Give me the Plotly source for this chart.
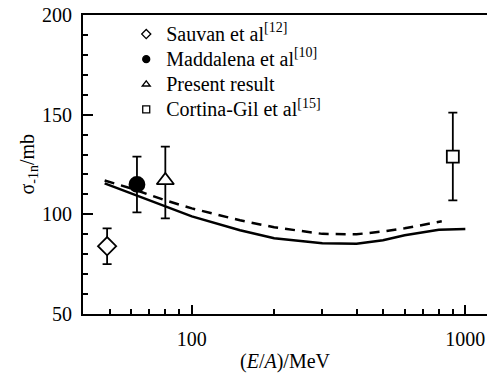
import plotly.graph_objects as go
import math

# Experimental data
exp_names = ["Sauvan et al<sup>[12]</sup>", "Maddalena et al<sup>[10]</sup>",
             "Present result", "Cortina-Gil et al<sup>[15]</sup>"]
exp_energy = [49, 63, 80, 900]
exp_sigma = [84, 115, 117, 129]
exp_err_plus = [9, 14, 17, 22]
exp_err_minus = [9, 14, 19, 22]
exp_symbols = ["diamond", "circle", "triangle-up", "square"]
exp_fill = ["white", "black", "white", "white"]
exp_sizes = [14, 15, 15, 12]

# Calculations
solid_energy = [48, 60, 70, 80, 100, 150, 200, 300, 400, 500, 600, 800, 1000]
solid_sigma = [115.5, 110.5, 107, 104, 99, 92, 88, 85.5, 85.3, 87, 89.5, 92.3, 92.6]
dash_energy = [48, 60, 80, 100, 150, 200, 300, 400, 500, 600, 820]
dash_sigma = [117, 113, 107, 103, 97, 93.5, 90.2, 90, 91.4, 93, 96.5]

x_tickvals = [100, 1000]
x_minor = [50, 60, 70, 80, 90, 200, 300, 400, 500, 600, 700, 800, 900]
y_tickvals = [50, 100, 150, 200]
x_title = "(<i>E</i>/<i>A</i>)/MeV"
y_title = "σ<sub>-1n</sub>/mb"

FONT = "'Liberation Serif', 'Times New Roman', Times, serif"
FS = 20
fig = go.Figure()

fig.add_trace(go.Scatter(x=solid_energy, y=solid_sigma, mode="lines",
                         line=dict(color="black", width=2.5), showlegend=False))
fig.add_trace(go.Scatter(x=dash_energy, y=dash_sigma, mode="lines",
                         line=dict(color="black", width=2.5, dash="10px,7px"), showlegend=False))

for i in range(4):
    fig.add_trace(go.Scatter(
        x=[exp_energy[i]], y=[exp_sigma[i]], mode="markers",
        marker=dict(symbol=exp_symbols[i], size=exp_sizes[i], color=exp_fill[i],
                    line=dict(color="black", width=1.8)),
        error_y=dict(type="data", symmetric=False, array=[exp_err_plus[i]],
                     arrayminus=[exp_err_minus[i]], color="black", thickness=1.8, width=4.5),
        showlegend=False))

for i in range(4):
    fig.add_trace(go.Scatter(
        x=[None], y=[None], mode="markers",
        name="<span style='font-size:%dpx'>%s</span>" % (FS, exp_names[i]),
        marker=dict(symbol=exp_symbols[i], size=7, color=exp_fill[i],
                    line=dict(color="black", width=1.3))))

fig.add_annotation(text=x_title, xref="paper", yref="paper", x=0.5, y=-0.16,
                   xanchor="center", yanchor="middle", showarrow=False,
                   font=dict(family=FONT, size=FS, color="black"))
fig.add_annotation(text=y_title, xref="paper", yref="paper", x=-0.136, y=0.5,
                   xanchor="center", yanchor="middle", showarrow=False, textangle=-90,
                   font=dict(family=FONT, size=FS, color="black"))

fig.update_layout(
    width=487, height=373,
    margin=dict(l=83, r=0, t=15, b=59, autoexpand=False),
    plot_bgcolor="white", paper_bgcolor="white",
    font=dict(family=FONT, size=FS, color="black"),
    showlegend=True,
    legend=dict(x=0.107, y=0.995, xanchor="left", yanchor="top",
                bgcolor="rgba(0,0,0,0)", font=dict(family=FONT, size=17),
                tracegroupgap=0, itemsizing="trace"),
    xaxis=dict(type="log", range=[math.log10(40), math.log10(1200)],
               tickmode="array", tickvals=x_tickvals, ticktext=["100", "1000"],
               ticks="inside", ticklen=9, tickwidth=2, tickcolor="black",
               showline=True, linewidth=2, linecolor="black", mirror=True,
               showgrid=False, zeroline=False, ticklabelstandoff=6,
               automargin=False,
               tickfont=dict(family=FONT, size=FS),
               minor=dict(tickmode="array", tickvals=x_minor, ticks="inside",
                          ticklen=5, tickwidth=1.5, tickcolor="black", showgrid=False)),
    yaxis=dict(range=[50, 200], tickmode="array", tickvals=y_tickvals,
               ticks="inside", ticklen=10, tickwidth=2, tickcolor="black",
               showline=True, linewidth=2, linecolor="black", mirror=False,
               showgrid=False, zeroline=False, ticklabelstandoff=5,
               automargin=False,
               tickfont=dict(family=FONT, size=FS),
               minor=dict(dtick=10, ticks="inside", ticklen=5, tickwidth=1.5,
                          tickcolor="black", showgrid=False)),
)

fig.write_html("out.html", config={"displayModeBar": False},
               post_script="document.body.style.margin='0';")
